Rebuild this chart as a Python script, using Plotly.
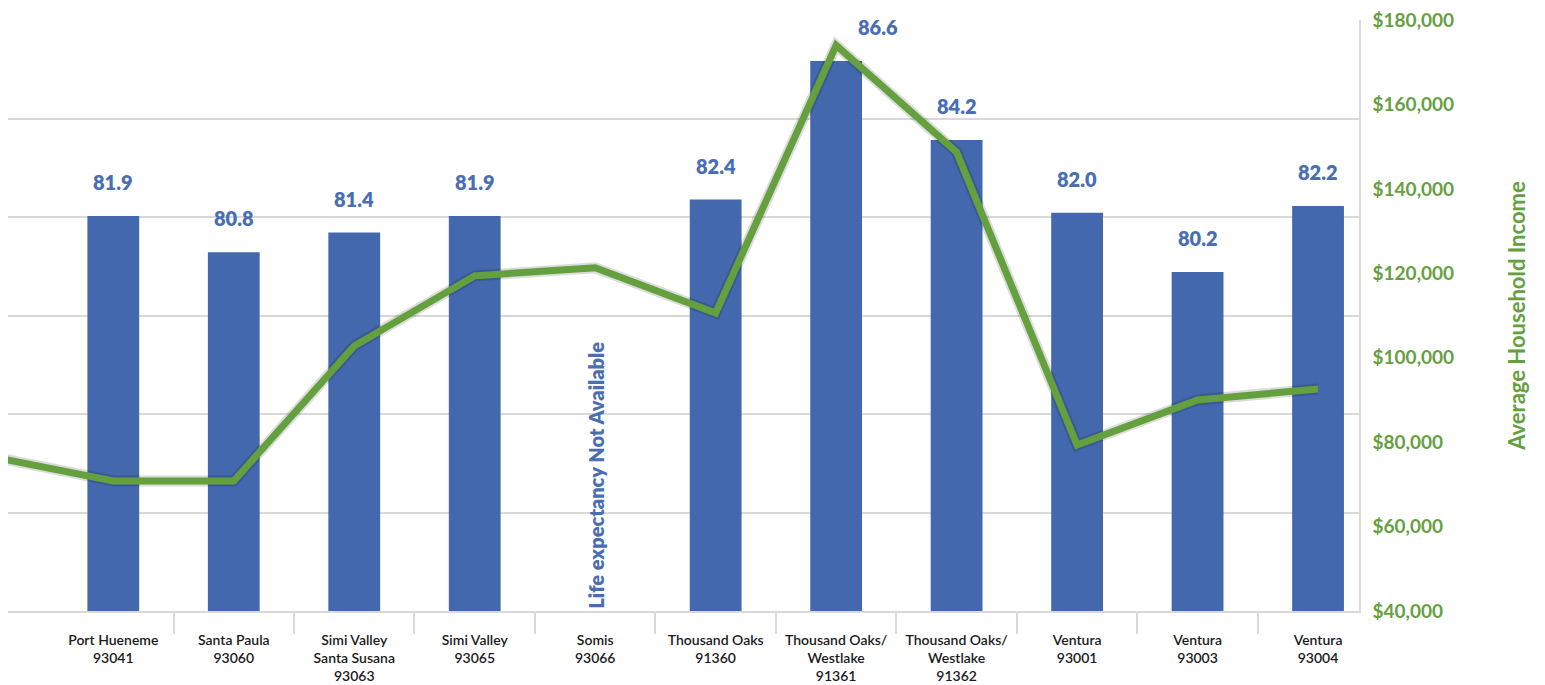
import plotly.graph_objects as go

# first category sits mostly off the left edge in the source image
categories = ["", "Port Hueneme<br>93041", "Santa Paula<br>93060",
              "Simi Valley<br>Santa Susana<br>93063", "Simi Valley<br>93065",
              "Somis<br>93066", "Thousand Oaks<br>91360",
              "Thousand Oaks/<br>Westlake<br>91361", "Thousand Oaks/<br>Westlake<br>91362",
              "Ventura<br>93001", "Ventura<br>93003", "Ventura<br>93004"]
life_expectancy = [None, 81.9, 80.8, 81.4, 81.9, None, 82.4, 86.6, 84.2, 82.0, 80.2, 82.2]
avg_income = [76500, 70800, 70800, 102800, 119400, 121300, 110600,
              174000, 148700, 79300, 90000, 92600]

x = list(range(len(categories)))
blue = "#4468AD"
green = "#65A03F"
label_blue = "#4A6EB3"

fig = go.Figure()
fig.add_trace(go.Bar(x=x, y=life_expectancy, width=0.43, marker=dict(color=blue, line=dict(width=0)),
                     yaxis="y", showlegend=False, hoverinfo="skip"))
# soft shadow under the income line
fig.add_trace(go.Scatter(x=x, y=avg_income, mode="lines", yaxis="y2",
                         line=dict(color="rgba(0,0,0,0.14)", width=11), showlegend=False, hoverinfo="skip"))
fig.add_trace(go.Scatter(x=x, y=avg_income, mode="lines", yaxis="y2",
                         line=dict(color=green, width=7), showlegend=False))

for i, v in enumerate(life_expectancy):
    if v is None:
        continue
    fig.add_annotation(x=i, y=v, yref="y", text=f"{v:.1f}", showarrow=False,
                       yanchor="bottom", yshift=20, xshift=42 if v == 86.6 else 0,
                       font=dict(family="Lato", size=20, color=label_blue, weight=800))

fig.add_annotation(x=5, y=0, yref="paper", text="Life expectancy Not Available",
                   textangle=-90, showarrow=False, yanchor="bottom", xanchor="center",
                   font=dict(family="Lato", size=20, color=label_blue, weight=800))

# page body adds an 8px offset, so the figure is a bit smaller than the window
fig.update_layout(
    width=1537, height=677,
    margin=dict(l=0, r=186, t=12, b=74),
    plot_bgcolor="white", paper_bgcolor="white",
    font=dict(family="Lato", color="#222222"),
    xaxis=dict(range=[0.126, 11.34], tickvals=x, ticktext=categories, ticks="",
               tickfont=dict(family="Lato", size=14, color="#1a1a1a", weight=600),
               ticklabelstandoff=15, automargin=False,
               showline=True, linecolor="#D9D9D9", linewidth=1.5, showgrid=False, zeroline=False,
               minor=dict(tickmode="array", tickvals=[i + 0.5 for i in x[1:-1]], ticks="outside",
                          ticklen=21, tickcolor="#D9D9D9", tickwidth=1.5, showgrid=False)),
    yaxis=dict(range=[69.93, 87.84], tickmode="array",
               tickvals=[69.93 + k * 2.985 for k in range(7)], showticklabels=False,
               showgrid=True, gridcolor="#D9D9D9", gridwidth=1.5, zeroline=False, automargin=False),
    yaxis2=dict(overlaying="y", side="right", range=[40000, 180000], dtick=20000,
                tickformat="$,.0f", showgrid=False, zeroline=False, automargin=False,
                ticklabeloverflow="allow",
                showline=True, linecolor="#D9D9D9", linewidth=1.5, ticks="", ticklabelstandoff=8,
                tickfont=dict(family="Lato", size=19, color=green, weight="bold"),
                title=dict(text="Average Household Income", standoff=56,
                           font=dict(family="Lato", size=22, color=green, weight="bold"))),
)

fig.write_html("out.html")
